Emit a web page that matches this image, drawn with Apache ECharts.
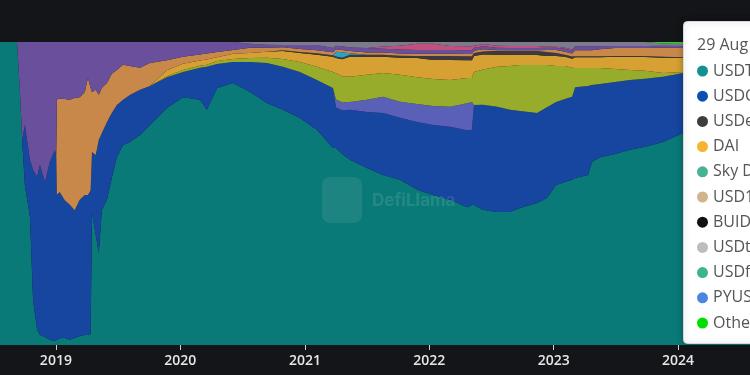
<!DOCTYPE html>
<html>
<head>
<meta charset="utf-8">
<script src="https://cdn.jsdelivr.net/npm/echarts@6/dist/echarts.min.js"></script>
<style>html,body{margin:0;padding:0;background:#141518;}#c{width:750px;height:375px;}</style>
</head>
<body>
<div id="c"></div>
<script>
// Dates of the sampled points
const dates = [
'2018-07-21','2018-09-09','2018-09-18','2018-09-24','2018-10-02','2018-10-17','2018-10-26','2018-11-07','2018-11-15','2018-11-30',
'2018-12-14','2018-12-29','2019-01-02','2019-01-04','2019-01-12','2019-01-27','2019-02-11','2019-02-25','2019-03-12','2019-03-27',
'2019-04-05','2019-04-13','2019-04-17','2019-04-28','2019-05-07','2019-05-16','2019-05-31','2019-06-14','2019-06-29','2019-07-17',
'2019-08-06','2019-09-05','2019-10-04','2019-11-23','2020-01-09','2020-02-28','2020-03-19','2020-04-18','2020-06-04','2020-07-24',
'2020-09-11','2020-10-28','2020-12-17','2021-02-05','2021-03-24','2021-04-02','2021-04-20','2021-05-13','2021-07-02','2021-08-18',
'2021-10-07','2021-11-26','2022-01-12','2022-03-03','2022-04-22','2022-05-06','2022-05-12','2022-06-07','2022-07-19','2022-08-26',
'2022-09-24','2022-11-13','2022-12-12','2023-01-08','2023-02-03','2023-02-24','2023-03-05','2023-04-12','2023-04-23','2023-05-17',
'2023-06-30','2023-08-13','2023-09-26','2023-11-18','2024-01-16','2024-04-04','2024-07-30'
];
// Dominance shares (%), bottom to top of the stack
const usdt = [100,100,82.5,67.7,52.8,42.2,14.9,5.0,3.3,2.6, 1.7,1.3,1.3,1.7,2.3,2.3,1.7,2.3,3.0,3.3, 3.3,3.6,43.6,36.3,30.4,44.6,47.9,55.1,62.0,66.0, 67.0,69.3,72.6,78.2,81.8,80.9,77.6,84.8,86.5,83.5, 79.9,77.6,74.9,71.0,65.0,64.4,63.0,61.1,58.4,56.1, 54.5,51.2,49.5,47.9,45.5,46.2,46.2,44.6,43.9,43.9, 45.2,46.9,48.5,52.8,53.8,54.5,55.1,56.1,60.4,62.0, 63.0,64.4,65.3,67.0,70.0,71.6,72.6];
const usdc = [0,0,0,0,19.8,18.8,42.9,50.5,56.1,51.2, 58.7,63.0,61.4,47.9,49.2,45.5,44.6,42.2,44.9,46.2, 46.2,47.5,20.1,26.4,37.3,25.4,25.7,21.5,17.2,14.9, 15.5,14.9,12.9,10.2,8.3,10.6,14.2,7.9,6.9,9.9, 13.2,14.2,15.2,16.5,19.8,13.2,14.5,16.5,18.5,20.5, 20.5,22.4,23.1,24.1,25.4,24.8,33.0,34.7,34.7,33.7, 32.0,29.7,30.0,27.4,27.4,27.4,30.0,29.4,25.4,24.1, 23.8,23.1,22.4,21.5,19.8,18.5,18.2];
const ust = [0,0,0,0,0,0,0,0,0,0, 0,0,0,0,0,0,0,0,0,0, 0,0,0,0,0,0,0,0,0,0, 0,0,0,0,0,0,0,0,0,0, 0,0,0,0,0,2.6,2.6,2.6,4.0,5.3, 5.3,5.9,6.3,6.6,8.9,9.2,0,0,0,0, 0,0,0,0,0,0,0,0,0,0, 0,0,0,0,0,0,0];
const busd = [0,0,0,0,0,0,0,0,0,0, 0,0,0,0,0,0,0,0,0,0, 0,0,0,0,0,0,0,0,0,0, 0,0,0,0.3,0.7,0.7,0.7,1.0,1.0,1.3, 1.7,2.6,3.3,4.3,5.3,8.6,8.6,8.3,8.3,7.9, 8.9,8.9,8.9,8.9,8.3,7.9,10.9,11.6,13.2,14.5, 15.2,15.8,13.9,11.9,10.9,9.6,6.3,5.9,5.6,5.3, 4.3,3.3,2.6,1.3,0.3,0.2,0.1];
const dai = [0,0,0,0,0,0,0,0,0,0, 0,0,0,0,0,0,0,0,0,0, 0,0,0,0,0,0,0,0,0,0, 0,0,0,2.0,2.0,1.7,1.7,1.3,1.7,1.7, 2.0,2.6,3.0,4.0,5.0,5.0,5.6,6.6,5.9,5.3, 5.6,6.3,6.3,6.6,5.9,5.9,5.3,5.0,4.0,3.6, 3.3,3.3,3.0,3.3,3.0,3.0,3.6,3.6,3.6,3.6, 4.0,4.3,4.6,5.0,4.6,4.5,4.0];
const frax = [0,0,0,0,0,0,0,0,0,0, 0,0,0,0,0,0,0,0,0,0, 0,0,0,0,0,0,0,0,0,0, 0,0,0,0,0,0,0,0,0,0, 0,0.3,0.3,0.5,0.5,0.5,0.5,0.7,0.7,0.7, 0.7,0.7,1.3,1.3,1.3,1.3,1.0,1.0,1.3,1.3, 1.3,1.3,1.3,1.0,0.7,0.7,0.3,0.3,0.3,0.3, 0.3,0.3,0.3,0.3,0.3,0.3,0.3];
const husd = [0,0,0,0,0,0,0,0,0,0, 0,0,0,0,0,0,0,0,0,0, 0,0,0,0,0,0,0,0,0,0, 0,0,0,0,0,0,0,0,0,0, 0,0,0,0,0,1.5,1.8,0.5,0,0, 0,0,0,0,0,0,0,0,0,0, 0,0,0,0,0,0,0,0,0,0, 0,0,0,0,0,0,0];
const tusd = [0,0,0,0,0,0,0,0,0,0, 0,0,0,31.4,31.4,33.4,34.6,37.0,33.9,34.0, 38.6,33.7,19.8,21.5,14.9,14.9,12.9,12.9,11.6,11.6, 9.6,7.3,7.6,3.3,2.3,2.0,2.0,1.7,1.3,1.7, 1.3,1.0,1.0,1.0,1.0,0.8,0.8,0.7,0.7,0.7, 0.7,0.7,0.7,0.7,0.7,0.7,0.7,0.7,0.3,0.3, 0.3,0.3,0.7,1.0,1.0,1.0,2.0,2.0,2.0,2.3, 2.6,2.6,2.6,3.0,3.0,2.6,2.3];
const usdp = [0,0,17.5,32.3,27.4,39.0,42.2,44.5,40.6,46.2, 39.6,35.7,37.3,19.0,19.1,18.8,19.1,18.5,18.2,16.5, 11.9,15.2,16.5,15.8,17.4,15.1,13.5,10.5,9.2,7.5, 7.9,8.5,6.9,6.0,4.9,4.1,3.8,3.3,2.6,1.3, 1.0,0.7,1.3,1.7,1.4,1.2,1.2,1.2,1.5,1.3, 1.3,1.3,1.3,1.3,1.3,1.3,1.0,1.0,0.7,0.7, 0.7,0.7,0.7,0.7,1.0,1.0,1.3,1.3,1.3,1.0, 0.7,0.7,0.7,0.7,0.7,0.7,0.7];
const lusd = [0,0,0,0,0,0,0,0,0,0, 0,0,0,0,0,0,0,0,0,0, 0,0,0,0,0,0,0,0,0,0, 0,0,0,0,0,0,0,0,0,0, 0,0,0,0,0,0,0,0,0,0.7, 1.3,2.0,2.0,1.3,1.3,1.3,0.7,0.7,0.7,0.7, 0.7,0.7,0.3,0.3,0.3,0.3,0,0,0,0, 0,0,0,0,0,0,0];
const others = [0,0,0,0,0,0,0,0,0,0, 0,0,0,0,0,0,0,0,0,0, 0,0,0,0,0,0,0,0,0,0, 0,0,0,0,0,0,0,0,0,0.6, 0.9,1.0,1.0,1.0,2.0,1.2,1.4,1.8,2.0,1.5, 1.2,0.6,0.6,1.3,1.4,1.4,1.2,0.7,1.2,1.3, 1.3,1.3,1.6,1.6,1.9,2.5,1.4,1.4,1.4,1.4, 1.3,1.3,1.3,0.7,0.6,0.7,0.8];
const newer = [0,0,0,0,0,0,0,0,0,0, 0,0,0,0,0,0,0,0,0,0, 0,0,0,0,0,0,0,0,0,0, 0,0,0,0,0,0,0,0,0,0, 0,0,0,0,0,0,0,0,0,0, 0,0,0,0,0,0,0,0,0,0, 0,0,0,0,0,0,0,0,0,0, 0,0,0,0.5,0.7,0.9,1.0];

const stackNames = ['USDT','USDC','UST','BUSD','DAI','FRAX','HUSD','TUSD','USDP','LUSD','Others','New'];
const stackValues = [usdt,usdc,ust,busd,dai,frax,husd,tusd,usdp,lusd,others,newer];
const stackColors = ['#0a7a78','#1646a0','#5a60b8','#98ac2c','#d6a032','#3c3a40','#2aa2c4','#c8884a','#6a4f9c','#c0507e','#7c7a8e','#3cc83c'];

// Tooltip content
const tipTitle = '29 Aug 2025';
const tipNames = ['USDT','USDC','USDe','DAI','Sky Dollar','USD1','BUIDL','USDtb','USDf','PYUSD','Others'];
const tipColors = ['#13908f','#0c4fb2','#3d3d3d','#f4b430','#46b494','#d2b48c','#111111','#bdbdbd','#3cb58c','#4a86e0','#00e000'];

const totals = dates.map((d,i)=>stackValues.reduce((s,a)=>s+a[i],0));
const series = stackNames.map((n,k)=>({
  name:n, type:'line', stack:'total', symbol:'none', showSymbol:false,
  lineStyle:{width:0,opacity:0},
  areaStyle:{color:stackColors[k],opacity:1},
  emphasis:{disabled:true},
  data:dates.map((d,i)=>[d, stackValues[k][i]/totals[i]*100])
}));

const Z = 100;
const tipEls = [{
  type:'rect', z:Z, shape:{x:683.5,y:21.5,width:140,height:322,r:4},
  style:{fill:'#ffffff',stroke:'#d8d8d8',lineWidth:1,shadowBlur:6,shadowColor:'rgba(0,0,0,0.3)'}
},{
  type:'text', z:Z+1, x:697, y:45.5, style:{text:tipTitle,fill:'#555',font:'16px "Open Sans"',textVerticalAlign:'middle'}
}];
tipNames.forEach((n,i)=>{
  const y = 71 + i*25.2;
  tipEls.push({type:'circle', z:Z+1, shape:{cx:702.5,cy:y,r:5.5}, style:{fill:tipColors[i]}});
  tipEls.push({type:'text', z:Z+1, x:713, y:y, style:{text:n,fill:'#555',font:'16px "Open Sans"',textVerticalAlign:'middle'}});
});

const chart = echarts.init(document.getElementById('c'), null, {renderer:'canvas'});
chart.setOption({
  animation:false,
  backgroundColor:'#141518',
  grid:{left:0,right:0,top:42,bottom:30},
  xAxis:{
    type:'time', min:'2018-07-21', max:'2024-07-30',
    axisLine:{show:false},
    axisTick:{show:true,length:5,lineStyle:{color:'#cfcfcf'}},
    splitLine:{show:false},
    axisLabel:{formatter:'{yyyy}',color:'#e6e6e6',fontSize:14,fontWeight:600,fontFamily:'Open Sans',margin:9}
  },
  yAxis:{type:'value',min:0,max:100,show:false},
  series:series,
  graphic:[
    {type:'rect', z:Z-10, silent:true, shape:{x:322,y:177,width:40,height:46,r:8}, style:{fill:'rgba(255,255,255,0.08)'}},
    {type:'text', z:Z-10, silent:true, x:372, y:201, style:{text:'DefiLlama',fill:'rgba(255,255,255,0.11)',font:'bold 17px Inter',textVerticalAlign:'middle'}}
  ].concat(tipEls)
});
</script>
</body>
</html>
